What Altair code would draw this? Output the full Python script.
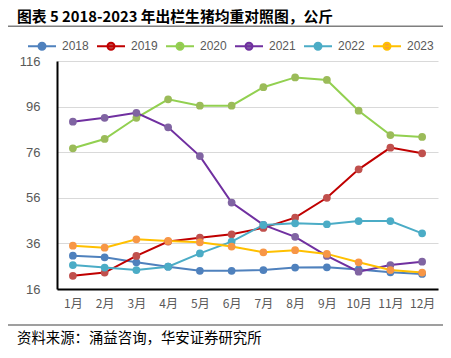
import altair as alt
import pandas as pd

months = [f"{i}月" for i in range(1, 13)]
years = ["2018", "2019", "2020", "2021", "2022", "2023"]
w2018 = [30.6, 29.9, 27.7, 25.8, 24.0, 24.0, 24.3, 25.4, 25.5, 24.6, 23.3, 22.6]
w2019 = [21.8, 23.2, 30.5, 36.8, 38.5, 40.0, 42.8, 47.3, 56.0, 68.5, 78.0, 75.5]
w2020 = [77.7, 81.8, 91.1, 99.2, 96.4, 96.4, 104.5, 108.8, 107.7, 94.2, 83.5, 82.7]
w2021 = [89.4, 91.1, 93.3, 86.9, 74.3, 53.9, 44.1, 38.9, 30.5, 23.6, 26.5, 28.0]
w2022 = [26.5, 25.4, 24.3, 25.8, 31.6, 36.8, 44.1, 44.8, 44.4, 45.8, 45.8, 40.4]
w2023 = [35.0, 34.1, 37.8, 37.1, 36.5, 34.6, 32.1, 33.0, 31.4, 27.7, 24.3, 23.2]
y_ticks = [16, 36, 56, 76, 96, 116]

line_colors = ["#4F81BD", "#C00000", "#92D050", "#7030A0", "#4BACC6", "#FFC000"]
marker_colors = ["#4F81BD", "#C0504D", "#9BBB59", "#8064A2", "#4BACC6", "#F79646"]

title_text = "图表 5 2018-2023 年出栏生猪均重对照图，公斤"
source_text = "资料来源：涌益咨询，华安证券研究所"

series = [w2018, w2019, w2020, w2021, w2022, w2023]
rows = []
for yr, vals in zip(years, series):
    for m, v in zip(months, vals):
        rows.append({"month": m, "year": yr, "weight": v})
df = pd.DataFrame(rows)

LEG_PATH = ("M-1,0L1,0M-0.25,0A0.25,0.25,0,1,1,0.25,0"
            "A0.25,0.25,0,1,1,-0.25,0Z")

x_enc = alt.X("month:N", sort=months,
              scale=alt.Scale(type="point", padding=0.5),
              axis=alt.Axis(title=None, labelAngle=0, ticks=False, grid=False,
                            domainColor="#000000", domainWidth=2,
                            labelColor="#595959", labelFont="Noto Sans CJK SC",
                            labelFontSize=12, labelPadding=9))
y_enc = alt.Y("weight:Q",
              scale=alt.Scale(domain=[16, 116], nice=False, zero=False),
              axis=alt.Axis(title=None, values=y_ticks, ticks=False,
                            domainColor="#000000", domainWidth=2,
                            gridColor="#D9D9D9", gridWidth=1,
                            labelColor="#595959", labelFont="Liberation Sans",
                            labelFontSize=13, labelPadding=17))

legend = alt.Legend(title=None, orient="none", direction="horizontal",
                    legendX=-30, legendY=-30, symbolType=LEG_PATH,
                    symbolSize=784, symbolStrokeWidth=2, labelOffset=5,
                    columnPadding=4, labelFont="Liberation Sans",
                    labelFontSize=12, labelColor="#595959")

base = alt.Chart(df)
lines = base.mark_line(strokeWidth=2).encode(
    x=x_enc, y=y_enc,
    color=alt.Color("year:N", scale=alt.Scale(domain=years, range=line_colors),
                    legend=legend),
)
points = base.mark_circle(size=60, opacity=1).encode(
    x=x_enc, y=y_enc,
    fill=alt.Fill("year:N", scale=alt.Scale(domain=years, range=marker_colors),
                  legend=legend),
)

deco = alt.Chart(pd.DataFrame({"t": [title_text], "s": [source_text]}))
title = deco.mark_text(align="left", baseline="middle", fontSize=14.8,
                       fontWeight="bold", font="Noto Sans CJK SC",
                       color="#000000").encode(
    text="t:N", x=alt.value(-40), y=alt.value(-43))
source = deco.mark_text(align="left", baseline="middle", fontSize=14.4,
                        font="Noto Sans CJK SC", color="#000000").encode(
    text="s:N", x=alt.value(-40), y=alt.value(278))
top_rule = deco.mark_rule(color="#7F7F7F", strokeWidth=1.5).encode(
    x=alt.value(-49), x2=alt.value(386), y=alt.value(-34.8))
bottom_rule = deco.mark_rule(color="#7F7F7F", strokeWidth=1.5).encode(
    x=alt.value(-49), x2=alt.value(386), y=alt.value(264))

chart = alt.layer(lines, points, title, source, top_rule, bottom_rule).properties(
    width=381, height=228,
    autosize=alt.AutoSizeParams(type="none"),
    padding={"left": 49, "top": 53, "right": 5, "bottom": 58},
).configure_view(stroke=None)

chart.save("out.html", embed_options={"renderer": "svg", "actions": False})
